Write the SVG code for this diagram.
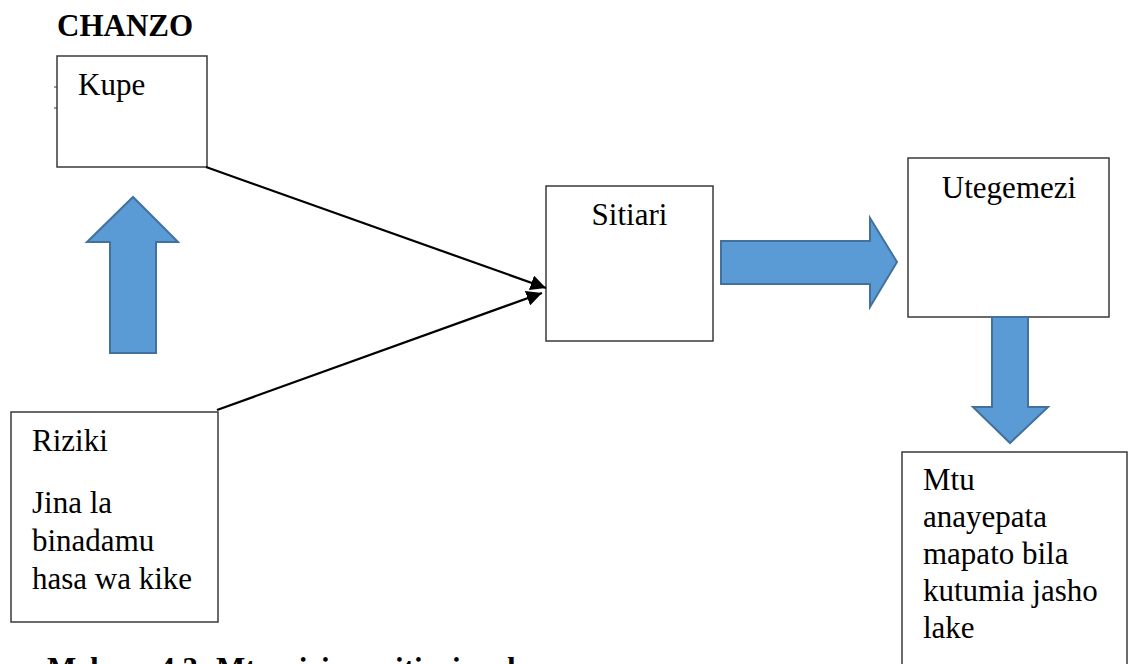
<svg xmlns="http://www.w3.org/2000/svg" width="1130" height="664" viewBox="0 0 1130 664">
  <style>
    .box { fill: #ffffff; stroke: #3a3a3a; stroke-width: 1.5; }
    .txt { font-family: "Liberation Serif", "Times New Roman", serif; font-size: 31px; fill: #000000; }
    .bold { font-weight: bold; }
    .flow { fill: #5B9BD5; stroke: #41719C; stroke-width: 2; stroke-linejoin: miter; }
    .link { stroke: #000000; stroke-width: 2.2; fill: none; }
  </style>
  <defs>
    <marker id="head" viewBox="0 0 10 10" refX="10" refY="5" markerWidth="7" markerHeight="7" markerUnits="strokeWidth" orient="auto">
      <path d="M0,0 L10,5 L0,10 Z" fill="#000000"/>
    </marker>
  </defs>

  <rect width="1130" height="664" fill="#ffffff"/>

  <!-- heading -->
  <text class="txt bold" x="57" y="36">CHANZO</text>

  <!-- source node: Kupe -->
  <g id="node-kupe">
    <rect class="box" x="57" y="56" width="150" height="111"/>
    <line x1="54" y1="87" x2="57" y2="87" stroke="#3a3a3a" stroke-width="1"/>
    <line x1="54" y1="108" x2="57" y2="108" stroke="#3a3a3a" stroke-width="1"/>
    <text class="txt" x="78" y="95">Kupe</text>
  </g>

  <!-- source node: Riziki -->
  <g id="node-riziki">
    <rect class="box" x="11" y="412" width="207" height="210"/>
    <text class="txt" x="32" y="451">Riziki</text>
    <text class="txt" x="32" y="513">Jina la</text>
    <text class="txt" x="32" y="551">binadamu</text>
    <text class="txt" x="32" y="589">hasa wa kike</text>
  </g>

  <!-- central node: Sitiari -->
  <g id="node-sitiari">
    <rect class="box" x="546" y="186" width="167" height="155"/>
    <text class="txt" x="629.5" y="225" text-anchor="middle">Sitiari</text>
  </g>

  <!-- target node: Utegemezi -->
  <g id="node-utegemezi">
    <rect class="box" x="908" y="158" width="201" height="159"/>
    <text class="txt" x="1009" y="198" text-anchor="middle">Utegemezi</text>
  </g>

  <!-- meaning node -->
  <g id="node-maana">
    <rect class="box" x="902" y="452" width="225" height="240"/>
    <text class="txt" x="923" y="490">Mtu</text>
    <text class="txt" x="923" y="527">anayepata</text>
    <text class="txt" x="923" y="564">mapato bila</text>
    <text class="txt" x="923" y="601">kutumia jasho</text>
    <text class="txt" x="923" y="638">lake</text>
  </g>

  <!-- connectors -->
  <g id="connectors">
    <line class="link" x1="206" y1="167" x2="546" y2="288" marker-end="url(#head)"/>
    <line class="link" x1="217" y1="410" x2="542" y2="293" marker-end="url(#head)"/>
    <!-- block arrows -->
    <polygon class="flow" points="110,353 156,353 156,242 178,242 133,197 87,242 110,242"/>
    <polygon class="flow" points="721,241 870,241 870,218 897,262 870,307 870,284 721,284"/>
    <polygon class="flow" points="992,317 1028,317 1028,407 1048,407 1010,443 973,407 992,407"/>
  </g>

  <!-- caption -->
  <text class="txt bold" x="47" y="679">Mchoro 4.3: Mtumizi wa sitiari ya kupe</text>
</svg>
